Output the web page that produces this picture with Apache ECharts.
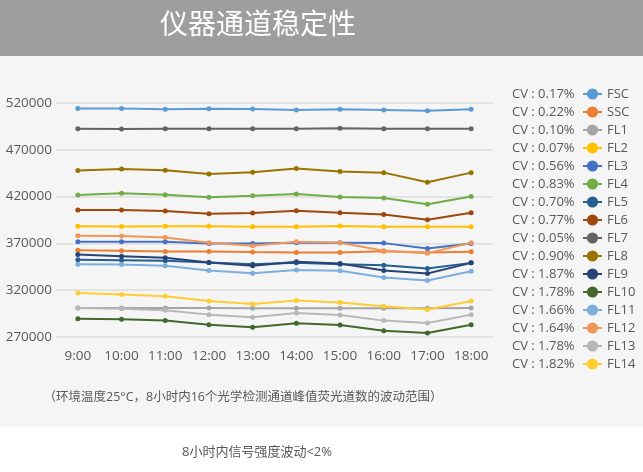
<!DOCTYPE html>
<html><head><meta charset="utf-8">
<script src="https://cdn.jsdelivr.net/npm/echarts@6/dist/echarts.min.js"></script>
<style>html,body{margin:0;padding:0;background:#fff}#c{width:643px;height:472px}</style>
</head><body><div id="c"></div>
<script>
const categories = ['9:00','10:00','11:00','12:00','13:00','14:00','15:00','16:00','17:00','18:00'];
const names = ['FSC','SSC','FL1','FL2','FL3','FL4','FL5','FL6','FL7','FL8','FL9','FL10','FL11','FL12','FL13','FL14'];
const cvValues = ['0.17%','0.22%','0.10%','0.07%','0.56%','0.83%','0.70%','0.77%','0.05%','0.90%','1.87%','1.78%','1.66%','1.64%','1.78%','1.82%'];
const colors = ['#5b9bd5','#ed7d31','#a5a5a5','#ffc000','#4472c4','#70ad47','#255e91','#9e480e','#636363','#997300','#264478','#43682b','#7cafdd','#f1975a','#b7b7b7','#ffcd33'];
const FSC  = [514200, 514200, 513200, 513900, 513500, 512500, 513200, 512500, 511800, 513200];
const SSC  = [362800, 362100, 361400, 361400, 360700, 360400, 360400, 361700, 360400, 361000];
const FL1  = [301000, 301000, 301000, 301000, 300800, 300700, 300700, 300700, 300700, 301000];
const FL2  = [388200, 388000, 388200, 388200, 387800, 387800, 388500, 387800, 387800, 387800];
const FL3  = [371700, 371700, 371700, 370000, 370000, 370600, 370600, 370300, 364600, 370000];
const FL4  = [421700, 423600, 422100, 419300, 421000, 422800, 419600, 418500, 411800, 420000];
const FL5  = [352400, 352100, 351400, 349600, 347800, 349200, 347800, 346700, 343200, 349200];
const FL6  = [405700, 405700, 404600, 401700, 402400, 404900, 402800, 401000, 395300, 402800];
const FL7  = [492500, 492200, 492500, 492500, 492500, 492500, 492900, 492500, 492500, 492500];
const FL8  = [447800, 449600, 448200, 444200, 446100, 449900, 446700, 445600, 435300, 445600];
const FL9  = [358200, 356400, 354600, 349600, 346000, 350300, 348500, 341000, 337800, 349200];
const FL10 = [289600, 288900, 287500, 283200, 280300, 284600, 282800, 276800, 274200, 283200];
const FL11 = [347800, 347500, 346000, 341000, 338200, 341700, 340700, 333600, 330300, 340300];
const FL12 = [378100, 377800, 376400, 370600, 367400, 371700, 370600, 362100, 359600, 370600];
const FL13 = [301000, 300300, 298500, 293900, 291000, 295600, 293500, 287500, 284900, 293900];
const FL14 = [317100, 315300, 313500, 308500, 305300, 308900, 306800, 302800, 299300, 308500];
const seriesValues = [FSC,SSC,FL1,FL2,FL3,FL4,FL5,FL6,FL7,FL8,FL9,FL10,FL11,FL12,FL13,FL14];
const yMin = 270000, yMax = 520000, yStep = 50000;
const titleText = '仪器通道稳定性';
const noteText = '（环境温度25°C，8小时内16个光学检测通道峰值荧光道数的波动范围）';
const footText = '8小时内信号强度波动<2%';

const FONT = '"Open Sans", "Noto Sans CJK SC", sans-serif';
const chart = echarts.init(document.getElementById('c'), null, {renderer: 'canvas'});
const cvMap = {};
names.forEach((n, i) => cvMap[n] = cvValues[i]);

chart.setOption({
  backgroundColor: '#ffffff',
  animation: false,
  color: colors,
  graphic: [
    {type: 'rect', z: -10, shape: {x: 0, y: 0, width: 643, height: 56}, style: {fill: '#9e9e9e'}},
    {type: 'rect', z: -10, shape: {x: 0, y: 56, width: 643, height: 371}, style: {fill: '#f5f5f5'}},
    {type: 'text', x: 258, y: 23, style: {text: titleText, fill: '#ffffff', font: '28px "Noto Sans CJK SC", sans-serif', textAlign: 'center', textVerticalAlign: 'middle'}},
    {type: 'text', x: 243, y: 397, style: {text: noteText, fill: '#595959', font: '12.5px "Open Sans", "Noto Sans CJK SC", sans-serif', textAlign: 'center', textVerticalAlign: 'middle'}},
    {type: 'text', x: 257, y: 452, style: {text: footText, fill: '#595959', font: '13px "Open Sans", "Noto Sans CJK SC", sans-serif', textAlign: 'center', textVerticalAlign: 'middle'}}
  ],
  grid: {left: 56, right: 150, top: 103, bottom: 135, containLabel: false},
  legend: [
    {
      data: names, orient: 'vertical', left: 577, top: 82,
      itemWidth: 19, itemHeight: 14, itemGap: 4,
      textStyle: {fontSize: 13, color: '#595959', fontFamily: FONT, lineHeight: 14}
    },
    {
      data: names, orient: 'vertical', left: 502, top: 82, selectedMode: false,
      icon: 'none', itemWidth: 0, itemHeight: 14, itemGap: 4,
      formatter: n => 'CV : ' + cvMap[n],
      textStyle: {fontSize: 13, color: '#595959', fontFamily: FONT, lineHeight: 14}
    }
  ],
  xAxis: {
    type: 'category', data: categories, boundaryGap: true,
    axisLine: {show: false}, axisTick: {show: false},
    axisLabel: {interval: 0, fontSize: 13.5, color: '#595959', fontFamily: FONT, margin: 12}
  },
  yAxis: {
    type: 'value', min: yMin, max: yMax, interval: yStep,
    axisLine: {show: false}, axisTick: {show: false},
    axisLabel: {fontSize: 13.5, color: '#595959', fontFamily: FONT, margin: 4, formatter: v => String(v)},
    splitLine: {lineStyle: {color: '#dcdcdc', width: 1.5}}
  },
  series: names.map((n, i) => ({
    name: n, type: 'line', data: seriesValues[i],
    symbol: 'circle', symbolSize: 5,
    lineStyle: {width: 2, color: colors[i]},
    itemStyle: {color: colors[i]}
  }))
});
</script></body></html>
